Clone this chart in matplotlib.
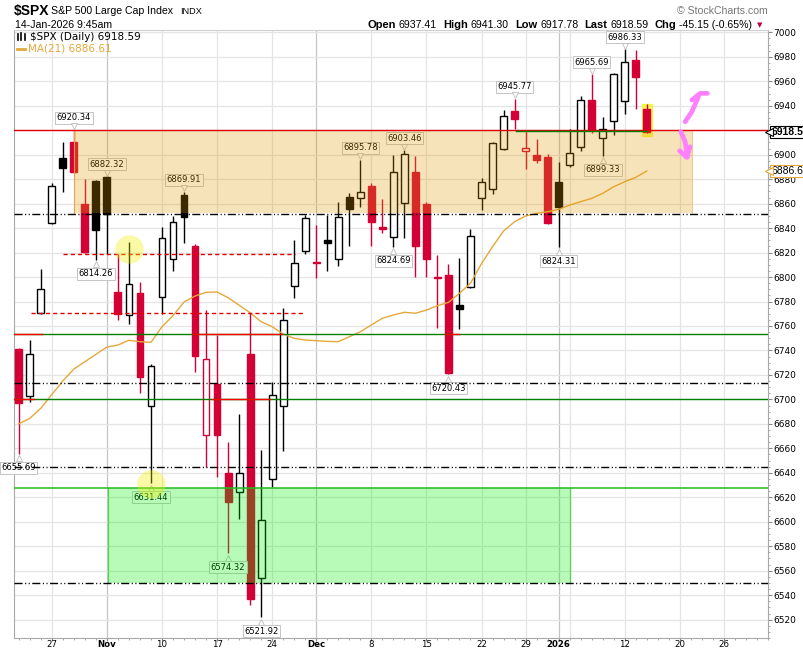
import numpy as np
import pandas as pd
import matplotlib
matplotlib.use("Agg")
from matplotlib import pyplot as plt
from matplotlib import transforms
from matplotlib.lines import Line2D
from matplotlib.patches import Rectangle
from matplotlib.ticker import MultipleLocator

W, H = 804, 650
RED = "#d40035"
GOLD = "#e5a83a"

# trading calendar (US market holidays skipped)
holidays = ["2025-11-27", "2025-12-25", "2026-01-01", "2026-01-19"]
dates = pd.bdate_range("2025-10-22", "2026-01-30", freq="C", holidays=holidays)

opens = [6741, 6702.5, 6771, 6844.4, 6897.5, 6910.6, 6859.4, 6878.5, 6882.0, 6788,
         6768.7, 6787, 6694.3, 6784, 6814.5, 6867, 6825.6, 6670.6, 6712.5, 6639.6,
         6624, 6737, 6553.8, 6635, 6695, 6792.7, 6821, 6812, 6830.2, 6814.5,
         6865.4, 6865, 6874.4, 6840.5, 6832.5, 6860.3, 6885.6, 6859.7, 6800, 6801.6,
         6777, 6791.6, 6864.8, 6872, 6904.4, 6935.7, 6902.7, 6899.5, 6898, 6877.7,
         6891.3, 6906.5, 6944.7, 6913.4, 6927.5, 6943.6, 6977.4, 6937.41]
highs = [6742, 6748.5, 6806.5, 6877, 6910.6, 6920.34, 6880, 6879, 6882.32, 6819,
         6828.4, 6796, 6729, 6840.6, 6849.6, 6869.91, 6827, 6773, 6753, 6665,
         6688, 6770.35, 6658.6, 6714, 6775, 6830.5, 6850.7, 6842.5, 6850.7, 6861,
         6868.4, 6895.78, 6877, 6864, 6899.7, 6903.46, 6899, 6861, 6818, 6811,
         6815.3, 6839, 6880.7, 6910.4, 6936.5, 6945.77, 6919.3, 6913, 6900.3, 6894,
         6920.7, 6948, 6965.69, 6930.5, 6967, 6986.33, 6985.5, 6941.30]
lows = [6655.69, 6698, 6770, 6843, 6869.7, 6885, 6819.4, 6814.26, 6818.6, 6765,
        6761.6, 6705.5, 6631.44, 6769.5, 6805, 6828, 6722.6, 6644.5, 6636.8, 6574.32,
        6602, 6532, 6521.92, 6628.7, 6658, 6782.5, 6818.6, 6799, 6805, 6809,
        6825.4, 6857, 6825.6, 6836, 6824.69, 6832, 6800.3, 6800.3, 6758.5, 6720.43,
        6757.3, 6791, 6854.8, 6867.8, 6904, 6920.7, 6888, 6893, 6843, 6824.31,
        6890, 6903, 6918, 6899.33, 6916, 6933.2, 6937.6, 6917.78]
closes = [6697, 6737, 6790.5, 6874, 6889.4, 6886, 6820.4, 6838.8, 6851.5, 6770,
          6794.6, 6718.6, 6727, 6831.6, 6845, 6849.3, 6735.7, 6732.7, 6670.6, 6616,
          6640, 6536.6, 6601.2, 6703.3, 6764.6, 6811.3, 6848, 6811.2, 6828, 6848.8,
          6856, 6869.2, 6845.2, 6839.5, 6885.6, 6900.3, 6825.6, 6815, 6799.5, 6721.4,
          6774, 6833.5, 6877.4, 6909.3, 6931.3, 6929, 6905.4, 6895.6, 6844.4, 6857.5,
          6901.1, 6944.7, 6920, 6921, 6965.7, 6976, 6963.74, 6918.59]
ma21 = [6680, 6684.5, 6692.7, 6704, 6715, 6724.8, 6730.8, 6736.8, 6742.8, 6744.4,
        6748.3, 6747.2, 6746.6, 6759.4, 6768.4, 6779.6, 6784.5, 6787.5, 6787.8, 6783.1,
        6777, 6770.8, 6763.5, 6759.4, 6753.4, 6749.9, 6748.5, 6748, 6747.4, 6747.2,
        6751.2, 6755.3, 6760.8, 6766.3, 6769, 6771.2, 6770.4, 6773, 6776.6, 6779.3,
        6786.7, 6795, 6811, 6824.8, 6837.6, 6845.2, 6849.9, 6852, 6853.4, 6855.3,
        6858.8, 6861.6, 6864.3, 6868.4, 6873.8, 6877.9, 6881.5, 6886.61]

# bars whose high / low carry a value tag
peak_bars = [5, 8, 15, 31, 35, 45, 52, 55]
trough_bars = [0, 7, 12, 19, 22, 34, 39, 49, 53]

# drawn levels and zones
resistance = 6920.34
dashdot_levels = [6851.5, 6713.5, 6644.5, 6549.7]
green_levels = [6753.2, 6700.0]
support = 6627.3
red_dashed = [(6818.6, 4.0, 25.1), (6770.35, 1.1, 25.85)]
red_pieces = [(6753.2, -0.43, 2.07), (6753.2, 15.7, 23.9), (6753.2, 38.65, 40.0),
              (6700.0, -0.43, 1.4), (6700.0, 17.5, 22.8)]
green_piece = (resistance, 45.1, 57.0)
orange_zone = (5.0, 61.1, 6852.0, 6919.5)
green_zone = (8.1, 50.0, 6549.7, 6627.3)
yellow_marks = [(10, 6822.9), (12, 6630.6)]
arrow_up = [(60.48, 6926.9), (61.09, 6935.1), (61.69, 6947.4)]
arrow_up_head = [(61.09, 6944.7), (61.84, 6950.1), (62.5, 6950.1)]
arrow_down = [(60.09, 6918.8), (60.48, 6910.6), (60.7, 6898.3)]
arrow_down_head = [(59.97, 6903.2), (60.63, 6897.8), (60.93, 6906.5)]

fig = plt.figure(figsize=(W / 100, H / 100), dpi=100)
ax = fig.add_axes([14 / W, 12 / H, 754 / W, 608 / H])
ax.set_xlim(-0.43, 67.68)
ax.set_ylim(6505.0, 7001.9)

# ---- grid
pos = np.arange(len(dates))
week_start = [i for i in range(1, len(dates)) if dates[i].weekday() < dates[i - 1].weekday()]
month_start = [i for i in range(1, len(dates)) if dates[i].month != dates[i - 1].month]
for i in sorted(set(week_start) | set(month_start)):
    ax.axvline(i, color="#c4c4c4" if i in month_start else "#e4e4e4", lw=0.9, zorder=0)
yticks = np.arange(6520, 7001, 20)
ax.set_yticks(yticks)
ax.grid(axis="y", color="#e4e4e4", lw=0.9, zorder=0)
ax.set_axisbelow(True)

ticks, labels = [], []
for i in sorted(set(week_start) | set(month_start)):
    if i in month_start:
        lab = str(dates[i].year) if dates[i].month == 1 else dates[i].strftime("%b")
    elif any(0 < i - m <= 2 for m in month_start):
        continue
    else:
        lab = str(dates[i].day)
    ticks.append(i)
    labels.append(lab)
ax.set_xticks(ticks, labels)
for t, lab in zip(ax.get_xticklabels(), labels):
    if not lab.isdigit() or len(lab) == 4:
        t.set_fontweight("bold")
ax.set_xticks(pos, minor=True)

# ---- candles
x = np.arange(len(closes))
o, hi, lo, c = map(np.array, (opens, highs, lows, closes))
prev = np.r_[o[0], c[:-1]]
col = np.where(c >= prev, "black", RED)
face = np.where(c > o, "white", col)
b_lo, b_hi = np.minimum(o, c), np.maximum(o, c)
ax.add_patch(Rectangle((x[-1] - 0.46, lo[-1] - 2.5), 0.92, hi[-1] - lo[-1] + 3,
                       fc="#f5f500", ec="#f0f000", alpha=0.6, zorder=2.9))
ax.vlines(x, lo, b_lo, colors=col, lw=1, zorder=3)
ax.vlines(x, b_hi, hi, colors=col, lw=1, zorder=3)
ax.bar(x, np.maximum(b_hi - b_lo, 0.5), bottom=b_lo, width=0.62, color=face,
       edgecolor=col, linewidth=1, zorder=3)
ax.plot(x, ma21, color=GOLD, lw=1, zorder=3.5)

# ---- value tags
def tag(xp, val, above):
    off = 7.5 if above else -9.5
    ax.annotate(f"{val:.2f}", (xp, val), xytext=(0, off * 0.72), textcoords="offset points",
                ha="center", va="bottom" if above else "top", fontsize=6,
                bbox=dict(boxstyle="square,pad=0.18", fc="white", ec="#c4c4c4", lw=0.7),
                zorder=4, annotation_clip=False)
    tr = transforms.offset_copy(ax.transData, fig=fig, x=0, y=3.5 if above else -4.5, units="dots")
    ax.plot(xp, val, marker="v" if above else "^", ms=5, mfc="white", mec="#bcbcbc",
            mew=0.6, transform=tr, zorder=4.1, clip_on=False)

for i in peak_bars:
    tag(x[i], highs[i], True)
for i in trough_bars:
    tag(x[i], lows[i], False)

# ---- zones (translucent, over the candles)
x0, x1, z0, z1 = orange_zone
ax.add_patch(Rectangle((x0, z0), x1 - x0, z1 - z0, fc="#e09a00", alpha=0.27, ec="none", zorder=5))
ax.plot([x0, x0], [z0, z1], color="#f0a040", lw=0.8, zorder=5)
ax.plot([x1, x1], [z0, z1], color="#f5c890", lw=0.8, zorder=5)
x0, x1, z0, z1 = green_zone
ax.add_patch(Rectangle((x0, z0), x1 - x0, z1 - z0, fc="#00f000", alpha=0.28, ec="none", zorder=5))
ax.plot([x0, x0], [z0, z1], color="#44dd44", lw=0.8, zorder=5)
ax.plot([x1, x1], [z0, z1], color="#44dd44", lw=0.8, zorder=5)

# ---- horizontal levels
dd = (0, (5.8, 1.8, 0.8, 1.8, 0.8, 1.8))
for v in dashdot_levels:
    ax.axhline(v, color="black", lw=1, ls=dd, zorder=6)
for v in green_levels:
    ax.axhline(v, color="#008000", lw=1, zorder=6)
ax.axhline(support, color="#22bb22", lw=1.1, zorder=6)
ax.axhline(resistance, color="#e00000", lw=1, zorder=6)
for v, a, b in red_dashed:
    ax.plot([a, b], [v, v], color="#e00000", lw=1, ls=(0, (3, 2.2)), zorder=6)
for v, a, b in red_pieces:
    ax.plot([a, b], [v, v], color="#ff0000", lw=1, zorder=6.1)
v, a, b = green_piece
ax.plot([a, b], [v - 0.6, v - 0.6], color="#008000", lw=1, zorder=6.1)

for xp, v in yellow_marks:
    ax.scatter(xp, v, s=420, color="#f0f000", alpha=0.35, lw=0, zorder=7)

for pts in (arrow_up, arrow_up_head, arrow_down, arrow_down_head):
    px, py = zip(*pts)
    ax.plot(px, py, color="#ff80ff", lw=3.4, solid_capstyle="round",
            solid_joinstyle="round", zorder=8)

# ---- axes styling
ax.yaxis.tick_right()
ax.yaxis.set_minor_locator(MultipleLocator(5))
ax.tick_params(axis="y", which="major", length=3, pad=1, labelsize=6.5, colors="#888888",
               labelcolor="black")
ax.tick_params(axis="y", which="minor", length=1.5, colors="#999999")
ax.tick_params(axis="x", which="major", length=2.5, pad=-1, labelsize=6.2, colors="#888888",
               labelcolor="black")
ax.tick_params(axis="x", which="minor", length=1.5, colors="#999999")
for s in ("left", "right", "bottom"):
    ax.spines[s].set_color("#a8a8a8")
ax.spines["top"].set_color("#d0d0d0")
# the last-price tag sits on top of the 6920 label
ax.yaxis.get_major_ticks()[int(np.argmin(abs(yticks - closes[-1])))].label2.set_visible(False)

# right-axis price tags (cut by the chart edge, as on screen)
ytr = ax.get_yaxis_transform()
tag_font = "Liberation Sans"
for val, bold, ec in [(closes[-1], True, "black"), (ma21[-1], False, GOLD)]:
    ax.annotate(f"{val:.2f}"[:-1], (1, val), xycoords=ytr, xytext=(2.6, 0),
                textcoords="offset points", va="center", ha="left", fontsize=7.5,
                fontweight="bold" if bold else "normal", family=tag_font,
                bbox=dict(boxstyle="square,pad=0.12", fc="white", ec=ec, lw=0.8),
                annotation_clip=False, zorder=9)
    tr = transforms.offset_copy(ytr, fig=fig, x=1.5, y=0, units="dots")
    ax.plot(1, val, marker="<", ms=5.5, mfc="white", mec=ec, mew=0.8, transform=tr,
            clip_on=False, zorder=9.1)

# ---- legend inside the plot
def fx(px):
    return px / W


def fy(py):
    return 1 - py / H


for lx, y0, y1 in [(18, 34, 40), (21.5, 33, 40), (25, 34, 40)]:
    fig.add_artist(Line2D([fx(lx), fx(lx)], [fy(y0), fy(y1)], color="black", lw=1.2))
fig.text(fx(30), fy(37.5), f"\\$SPX (Daily) {closes[-1]:.2f}", fontsize=7.5, va="center")
fig.add_artist(Line2D([fx(17), fx(25)], [fy(48.5), fy(48.5)], color=GOLD, lw=2))
fig.text(fx(28), fy(48.5), f"MA(21) {ma21[-1]:.2f}", fontsize=7.5, va="center", color=GOLD)

# ---- header
hdr = "Liberation Sans"
fig.text(fx(14), fy(10.5), "\\$SPX", fontsize=10, fontweight="bold", family=hdr, va="center")
fig.text(fx(51.5), fy(11.5), "S&P 500 Large Cap Index", fontsize=7.6, family=hdr, va="center")
fig.text(fx(180), fy(12), "INDX", fontsize=6.6, family=hdr, va="center")
fig.text(fx(15), fy(24.5), "14-Jan-2026 9:45am", fontsize=7.6, family=hdr, va="center")
fig.text(fx(768), fy(11), "\u00a9 StockCharts.com", fontsize=7.6, family=hdr, va="center",
         ha="right", color="#777777")

chg = closes[-1] - closes[-2]
pieces = [("Open", "bold"), (f"{opens[-1]:.2f}", "normal"),
          ("High", "bold"), (f"{highs[-1]:.2f}", "normal"),
          ("Low", "bold"), (f"{lows[-1]:.2f}", "normal"),
          ("Last", "bold"), (f"{closes[-1]:.2f}", "normal"),
          ("Chg", "bold"), (f"{chg:.2f} ({chg / closes[-2] * 100:.2f}%)", "normal")]
renderer = fig.canvas.get_renderer()
cur = 367.5
for k, (txt, w) in enumerate(pieces):
    t = fig.text(fx(cur), fy(24.5), txt, fontsize=7.6 if w == "normal" else 8,
                 fontweight=w, family=hdr, va="center")
    cur = t.get_window_extent(renderer).x1 + (3 if w == "bold" else 6)
fig.text(fx(cur - 1), fy(25), "\u25bc", fontsize=5, color="#c0003a", va="center")

fig.savefig("out.png", dpi=100)
